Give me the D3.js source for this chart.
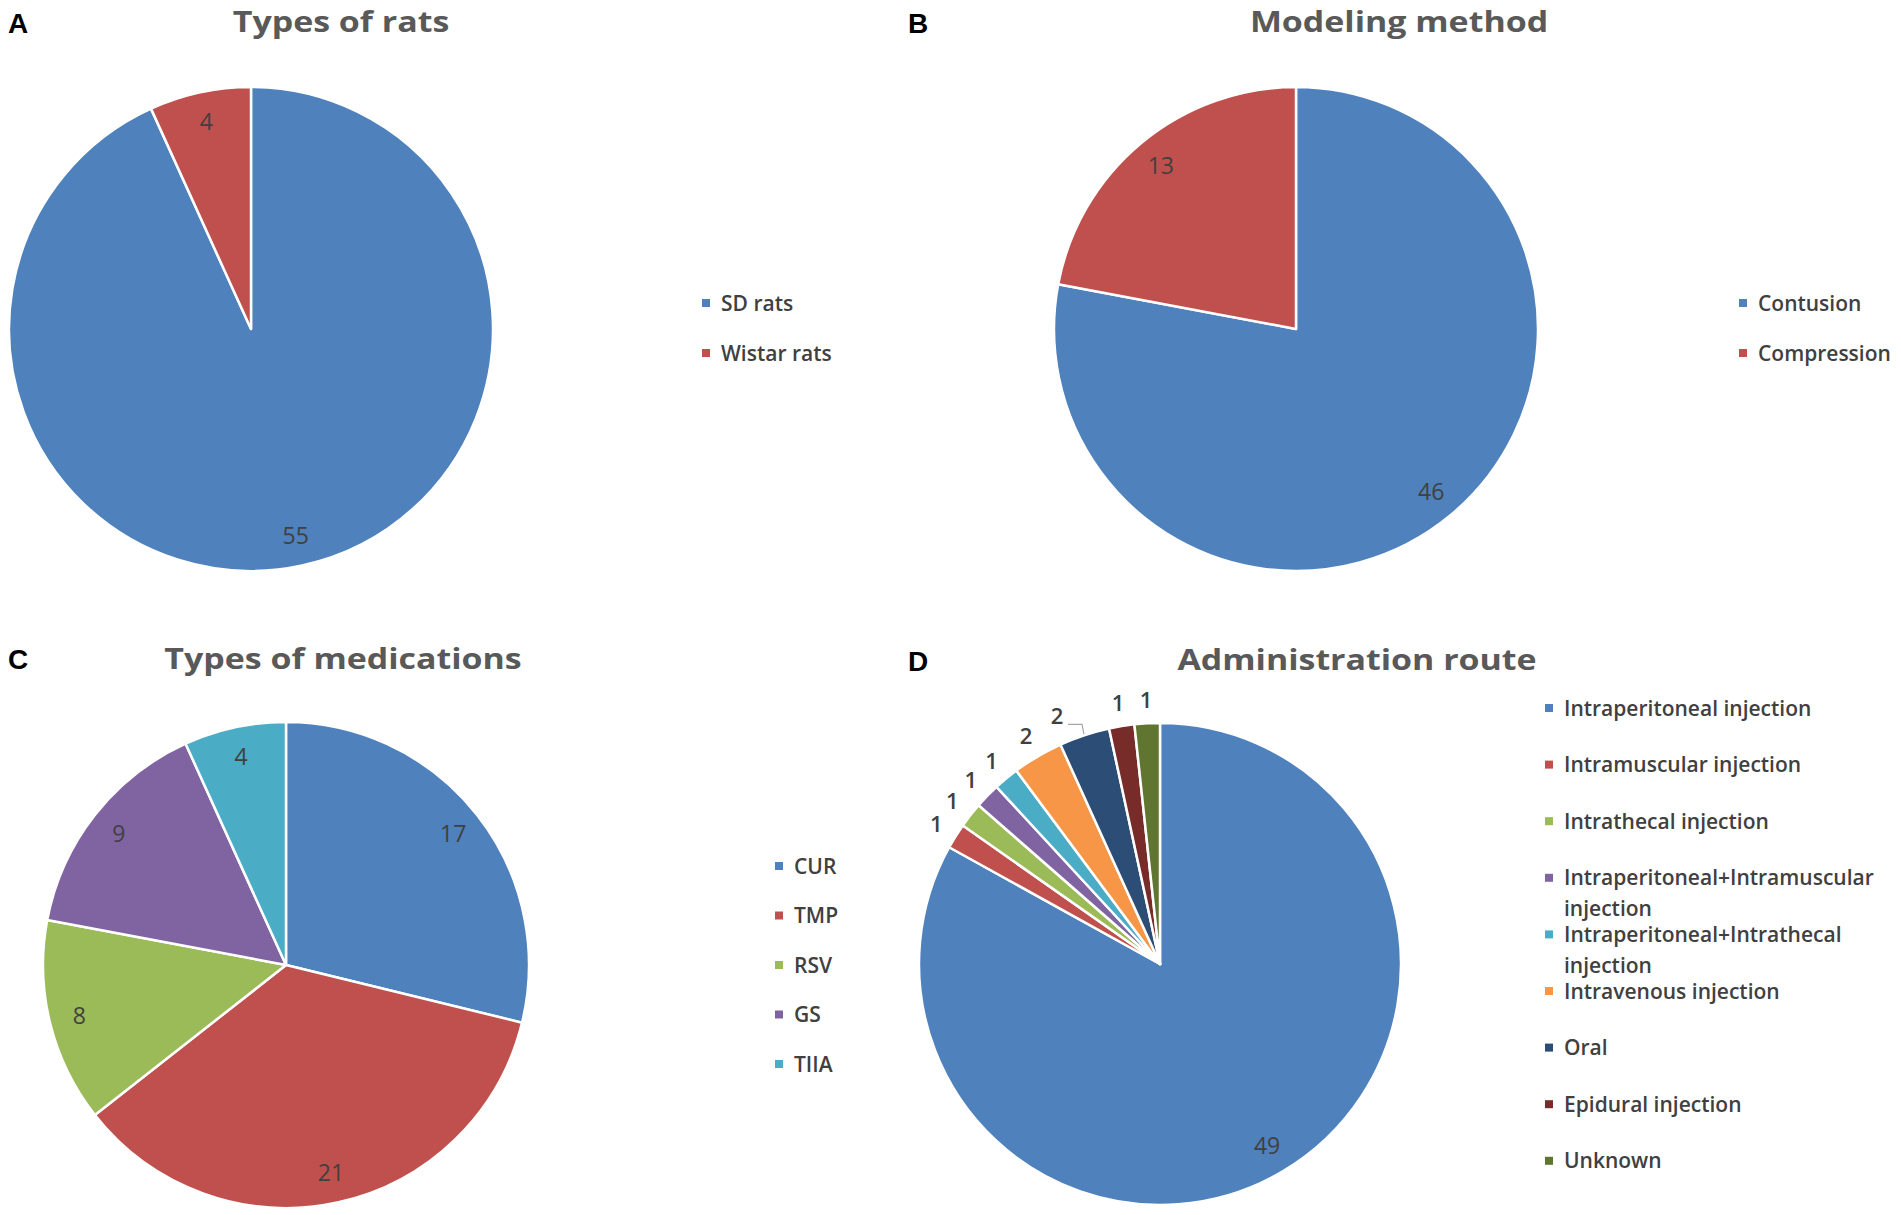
<!DOCTYPE html>
<html>
<head>
<meta charset="utf-8">
<script src="https://cdn.jsdelivr.net/npm/d3@7"></script>
<style>
  body { margin: 0; background: #fff; }
</style>
</head>
<body>
<div id="chart"></div>
<script>
// Data (all out of 59 studies)
var ratTypes = ['SD rats', 'Wistar rats'];
var ratCounts = [55, 4];

var modelMethods = ['Contusion', 'Compression'];
var modelCounts = [46, 13];

var medications = ['CUR', 'TMP', 'RSV', 'GS', 'TIIA'];
var medicationCounts = [17, 21, 8, 9, 4];

var routes = [
  'Intraperitoneal injection',
  'Intramuscular injection',
  'Intrathecal injection',
  'Intraperitoneal+Intramuscular injection',
  'Intraperitoneal+Intrathecal injection',
  'Intravenous injection',
  'Oral',
  'Epidural injection',
  'Unknown'
];
var routeCounts = [49, 1, 1, 1, 1, 2, 2, 1, 1];

// Office 2010 chart colours
var palette = ['#4F81BD', '#C0504D', '#9BBB59', '#8064A2', '#4BACC6',
               '#F79646', '#2C4D75', '#772C2A', '#5F7530'];

var W = 1901, H = 1215;
var FONT = '"Open Sans", "Noto Sans", sans-serif';
// reference text is set wide
var TITLE_STRETCH = 1.17;
var TEXT_STRETCH = 1.0;

var svg = d3.select('#chart').append('svg')
  .attr('width', W)
  .attr('height', H)
  .style('background', '#fff');

var panels = [
  {
    letter: 'A', title: 'Types of rats', names: ratTypes, values: ratCounts,
    letterPos: [8, 33], titlePos: [341, 32],
    center: [251, 329], radius: 242,
    legend: { x: 702, y: 303, step: 50, maxWidth: 300 }
  },
  {
    letter: 'B', title: 'Modeling method', names: modelMethods, values: modelCounts,
    letterPos: [908, 33], titlePos: [1399, 32],
    center: [1296, 329], radius: 242,
    legend: { x: 1739, y: 303, step: 50, maxWidth: 160 }
  },
  {
    letter: 'C', title: 'Types of medications', names: medications, values: medicationCounts,
    letterPos: [8, 669], titlePos: [343, 669],
    center: [286, 965], radius: 243,
    legend: { x: 775, y: 866, step: 49.5, maxWidth: 120 }
  },
  {
    letter: 'D', title: 'Administration route', names: routes, values: routeCounts,
    letterPos: [908, 671], titlePos: [1357, 670],
    center: [1160, 964], radius: 241,
    legend: { x: 1545, y: 708, step: 56.6, lineHeight: 31, maxWidth: 336 },
    leaders: ['Oral'],
    nudge: { 'Oral': [-20, 3] }
  }
];

panels.forEach(drawPanel);

function placeText(sel, x, y, k) {
  return sel.attr('transform', 'translate(' + x + ',' + y + ') scale(' + (k || TEXT_STRETCH) + ',1)');
}

function drawPanel(p) {
  var g = svg.append('g').attr('class', 'panel');

  // Panel letter
  g.append('text')
    .attr('x', p.letterPos[0])
    .attr('y', p.letterPos[1])
    .attr('font-family', '"Liberation Sans", Arial, sans-serif')
    .attr('font-weight', 'bold')
    .attr('font-size', 28)
    .attr('fill', '#000')
    .text(p.letter);

  // Title
  placeText(g.append('text'), p.titlePos[0], p.titlePos[1], TITLE_STRETCH)
    .attr('text-anchor', 'middle')
    .attr('font-family', FONT)
    .attr('font-weight', 'bold')
    .attr('font-size', 29)
    .attr('fill', '#595959')
    .text(p.title);

  var data = p.names.map(function(n, i) {
    return { name: n, value: p.values[i], color: palette[i] };
  });

  var pie = d3.pie()
    .sort(null)
    .value(function(d) { return d.value; });
  var arcs = pie(data);

  var arc = d3.arc().innerRadius(0).outerRadius(p.radius);
  var inArc = d3.arc().innerRadius(p.radius * 0.875).outerRadius(p.radius * 0.875);
  var outArc = d3.arc().innerRadius(p.radius + 23).outerRadius(p.radius + 23);
  var edgeArc = d3.arc().innerRadius(p.radius + 1).outerRadius(p.radius + 1);

  var pieG = g.append('g')
    .attr('transform', 'translate(' + p.center[0] + ',' + p.center[1] + ')');

  pieG.selectAll('path.slice')
    .data(arcs)
    .enter()
    .append('path')
      .attr('class', 'slice')
      .attr('d', arc)
      .attr('fill', function(d) { return d.data.color; })
      .attr('stroke', '#fff')
      .attr('stroke-width', 2.5)
      .attr('stroke-linejoin', 'round');

  // Data labels: inside end for large slices, outside for slivers
  function isSmall(d) {
    return (d.endAngle - d.startAngle) < 0.3;
  }

  function labelPos(d) {
    var c = isSmall(d) ? outArc.centroid(d) : inArc.centroid(d);
    var n = (p.nudge && p.nudge[d.data.name]) || [0, 0];
    return [c[0] + n[0], c[1] + n[1]];
  }

  pieG.selectAll('text.value')
    .data(arcs)
    .enter()
    .append('text')
      .attr('class', 'value')
      .each(function(d) {
        var pos = labelPos(d);
        placeText(d3.select(this), pos[0], pos[1]);
      })
      .attr('dy', '0.36em')
      .attr('text-anchor', 'middle')
      .attr('font-family', FONT)
      .attr('font-weight', function(d) { return isSmall(d) ? 600 : 'normal'; })
      .attr('font-size', function(d) { return isSmall(d) ? 22 : 23; })
      .attr('fill', '#404040')
      .text(function(d) { return d.data.value; });

  // Leader lines for labels pushed away from their slice
  var leaderArcs = arcs.filter(function(d) {
    return p.leaders && p.leaders.indexOf(d.data.name) >= 0;
  });
  pieG.selectAll('path.leader')
    .data(leaderArcs)
    .enter()
    .append('path')
      .attr('class', 'leader')
      .attr('fill', 'none')
      .attr('stroke', '#a6a6a6')
      .attr('stroke-width', 1.2)
      .attr('d', function(d) {
        var l = labelPos(d);
        var e = edgeArc.centroid(d);
        var yy = l[1] + 8;
        return 'M' + (l[0] + 11) + ',' + yy + 'L' + (e[0] - 2) + ',' + yy + 'L' + e[0] + ',' + e[1];
      });

  // Legend
  var lg = g.append('g').attr('class', 'legend');
  data.forEach(function(d, i) {
    var y = p.legend.y + i * p.legend.step;
    lg.append('rect')
      .attr('x', p.legend.x)
      .attr('y', y - 4)
      .attr('width', 8)
      .attr('height', 8)
      .attr('fill', d.color);

    // wrap long entries the way the spreadsheet legend does
    var words = d.name.split(' ');
    var lines = [];
    var current = '';
    var probe = lg.append('text')
      .attr('font-family', FONT)
      .attr('font-weight', 600)
      .attr('font-size', 21);
    words.forEach(function(w) {
      var test = current ? current + ' ' + w : w;
      probe.text(test);
      if (current && probe.node().getComputedTextLength() * TEXT_STRETCH > p.legend.maxWidth) {
        lines.push(current);
        current = w;
      } else {
        current = test;
      }
    });
    lines.push(current);
    probe.remove();

    lines.forEach(function(line, j) {
      placeText(lg.append('text'), p.legend.x + 19, y + j * (p.legend.lineHeight || 30))
        .attr('dy', '0.36em')
        .attr('font-family', FONT)
        .attr('font-weight', 600)
        .attr('font-size', 21)
        .attr('fill', '#404040')
        .text(line);
    });
  });
}
</script>
</body>
</html>
